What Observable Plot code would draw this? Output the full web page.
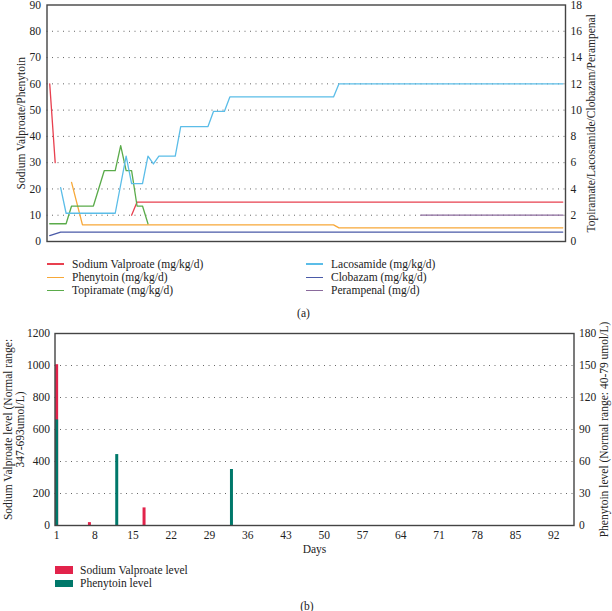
<!DOCTYPE html>
<html><head><meta charset="utf-8">
<script src="https://cdn.jsdelivr.net/npm/d3@7"></script>
<script src="https://cdn.jsdelivr.net/npm/@observablehq/plot@0.6"></script>
<style>
body{margin:0;background:#fff;font-family:"Liberation Serif","DejaVu Serif",serif;color:#222;}
#wrap{position:relative;width:612px;height:611px;overflow:hidden;background:#fff;}
#wrap svg{position:absolute;left:0;overflow:visible;}
.leg{position:absolute;font-size:11.5px;line-height:13.4px;white-space:nowrap;color:#222;font-family:"Liberation Serif","DejaVu Serif",serif;}
.sw{display:inline-block;width:17px;height:1.5px;vertical-align:middle;margin-right:8px;position:relative;top:-1px;}
.box{display:inline-block;width:18px;height:7.5px;vertical-align:middle;margin-right:7px;position:relative;top:-1px;}
.cap{position:absolute;font-size:11.5px;transform:translate(-50%,-50%);font-family:"Liberation Serif","DejaVu Serif",serif;}
</style></head><body><div id="wrap"></div>
<script>
// ---------- Data: panel (a) doses (breakpoints by day) ----------
const doseNames = ["Sodium Valproate (mg/kg/d)", "Phenytoin (mg/kg/d)", "Topiramate (mg/kg/d)",
                   "Lacosamide (mg/kg/d)", "Clobazam (mg/kg/d)", "Perampenal (mg/d)"];
const doseColors = ["#e8404f", "#f7a838", "#5aab4a", "#5bbde8", "#4a5aa8", "#8a6a9c"];
const doseAxis = ["left", "left", "right", "right", "right", "right"];

const valproateDays = [1, 2, 3, 16, 17, 95];
const valproateDose = [60, 30, null, 10, 15, 15];
const phenytoinDays = [5, 7, 53, 54, 95];
const phenytoinDose = [22.5, 6.3, 6.3, 5.2, 5.2];
const topiramateDays = [1, 4, 5, 9, 11, 13, 14, 15, 16, 17, 18, 19];
const topiramateDose = [1.35, 1.35, 2.7, 2.7, 5.4, 5.4, 7.3, 5.4, 5.4, 2.7, 2.7, 1.35];
const lacosamideDays = [3, 4, 13, 15, 16, 18, 19, 20, 21, 24, 25, 30, 31, 33, 34, 53, 54, 95];
const lacosamideDose = [4.1, 2.15, 2.15, 6.5, 4.4, 4.4, 6.5, 5.9, 6.5, 6.5, 8.75, 8.75, 9.9, 9.9, 11, 11, 12, 12];
const clobazamDays = [1, 3, 95];
const clobazamDose = [0.45, 0.72, 0.72];
const perampenalDays = [69, 95];
const perampenalDose = [2, 2];

const leftTicksA = [0, 10, 20, 30, 40, 50, 60, 70, 80, 90];
const rightFactorA = 5; // right axis 0-18 vs left 0-90

// ---------- Data: panel (b) levels ----------
const levelNames = ["Sodium Valproate level", "Phenytoin level"];
const levelColors = ["#e2234b", "#00786a"];
const valproateLevelDays = [1, 7, 17];
const valproateLevel = [1005, 18, 110];
const phenytoinLevelDays = [1, 12, 33];
const phenytoinLevel = [99, 66.5, 52.5];
const leftTicksB = [0, 200, 400, 600, 800, 1000, 1200];
const dayTicks = [1, 8, 15, 22, 29, 36, 43, 50, 57, 64, 71, 78, 85, 92];
const rightFactorB = 1200 / 180;

// ---------- Build tables ----------
const doseDays = [valproateDays, phenytoinDays, topiramateDays, lacosamideDays, clobazamDays, perampenalDays];
const doseVals = [valproateDose, phenytoinDose, topiramateDose, lacosamideDose, clobazamDose, perampenalDose];
const doseRows = doseNames.map((name, i) => doseDays[i].map((day, j) => ({
  series: name, day,
  y: doseVals[i][j] == null ? NaN : (doseAxis[i] === "right" ? doseVals[i][j] * rightFactorA : doseVals[i][j])
})));

const font = {fontFamily: "'Liberation Serif', 'DejaVu Serif', serif", fontSize: "11.5px", color: "#222", background: "transparent", overflow: "visible"};
const plain = d => String(d);

const plotA = Plot.plot({
  width: 612, height: 250,
  marginLeft: 46.5, marginRight: 47, marginTop: 4.5, marginBottom: 9,
  style: font,
  x: {domain: [0.5, 95.5], axis: null},
  y: {domain: [0, 90]},
  marks: [
    Plot.gridY(leftTicksA.slice(1, -1), {stroke: "#666", strokeOpacity: 1, strokeDasharray: "1,4.5"}),
    ...doseRows.map((rows, i) => Plot.line(rows, {x: "day", y: "y", stroke: doseColors[i], strokeWidth: 1.3})),
    Plot.frame({stroke: "#444", strokeWidth: 1.4}),
    Plot.axisY(leftTicksA, {anchor: "left", tickSize: 0, tickPadding: 6, tickFormat: plain,
      label: "Sodium Valproate/Phenytoin", labelAnchor: "center", labelArrow: "none", labelOffset: 30}),
    Plot.axisY(leftTicksA, {anchor: "right", tickSize: 0, tickPadding: 5, tickFormat: d => String(d / rightFactorA),
      label: "Topiramate/Lacosamide/Clobazam/Perampenal", labelAnchor: "center", labelArrow: "none", labelOffset: 29})
  ]
});
plotA.style.top = "0px";

const plotB = Plot.plot({
  width: 612, height: 235,
  marginLeft: 54.5, marginRight: 38.5, marginTop: 8, marginBottom: 35,
  style: font,
  x: {domain: [0.7, 95.7]},
  y: {domain: [0, 1200]},
  marks: [
    Plot.gridY(leftTicksB.slice(1, -1), {stroke: "#666", strokeOpacity: 1, strokeDasharray: "1,4.5"}),
    Plot.ruleX(valproateLevelDays.map((d, i) => ({day: d, v: valproateLevel[i]})),
      {x: "day", y1: 0, y2: "v", stroke: levelColors[0], strokeWidth: 3}),
    Plot.ruleX(phenytoinLevelDays.map((d, i) => ({day: d, v: phenytoinLevel[i] * rightFactorB})),
      {x: "day", y1: 0, y2: "v", stroke: levelColors[1], strokeWidth: 3}),
    Plot.frame({stroke: "#444", strokeWidth: 1.4}),
    Plot.axisX(dayTicks, {tickSize: 0, tickPadding: 5, tickFormat: plain,
      label: "Days", labelAnchor: "center", labelArrow: "none", labelOffset: 27}),
    Plot.axisY(leftTicksB, {anchor: "left", tickSize: 0, tickPadding: 5, tickFormat: plain,
      label: "Sodium Valproate level (Normal range:\n347-693umol/L)", labelAnchor: "center", labelArrow: "none", labelOffset: 51}),
    Plot.axisY(leftTicksB, {anchor: "right", tickSize: 0, tickPadding: 5, tickFormat: d => String(Math.round(d * 180 / 1200)),
      label: "Phenytoin level (Normal range: 40-79 umol/L)", labelAnchor: "center", labelArrow: "none", labelOffset: 34})
  ]
});
plotB.style.top = "325px";

const wrap = document.getElementById("wrap");
wrap.appendChild(plotA);
wrap.appendChild(plotB);

// Legend (a)
const legCols = [[0, 1, 2], [3, 4, 5]];
const legX = [47, 306];
legCols.forEach((col, c) => {
  const div = document.createElement("div");
  div.className = "leg";
  div.style.left = legX[c] + "px";
  div.style.top = "257.5px";
  div.innerHTML = col.map(i => `<div><span class="sw" style="background:${doseColors[i]}"></span>${doseNames[i]}</div>`).join("");
  wrap.appendChild(div);
});
// Legend (b)
const legB = document.createElement("div");
legB.className = "leg";
legB.style.left = "55px";
legB.style.top = "563.5px";
legB.innerHTML = levelNames.map((n, i) => `<div><span class="box" style="background:${levelColors[i]}"></span>${n}</div>`).join("");
wrap.appendChild(legB);

// captions
[["(a)", 303.5, 313.3], ["(b)", 307, 606]].forEach(([t, x, y]) => {
  const d = document.createElement("div");
  d.className = "cap"; d.textContent = t;
  d.style.left = x + "px"; d.style.top = y + "px";
  wrap.appendChild(d);
});
</script></body></html>
